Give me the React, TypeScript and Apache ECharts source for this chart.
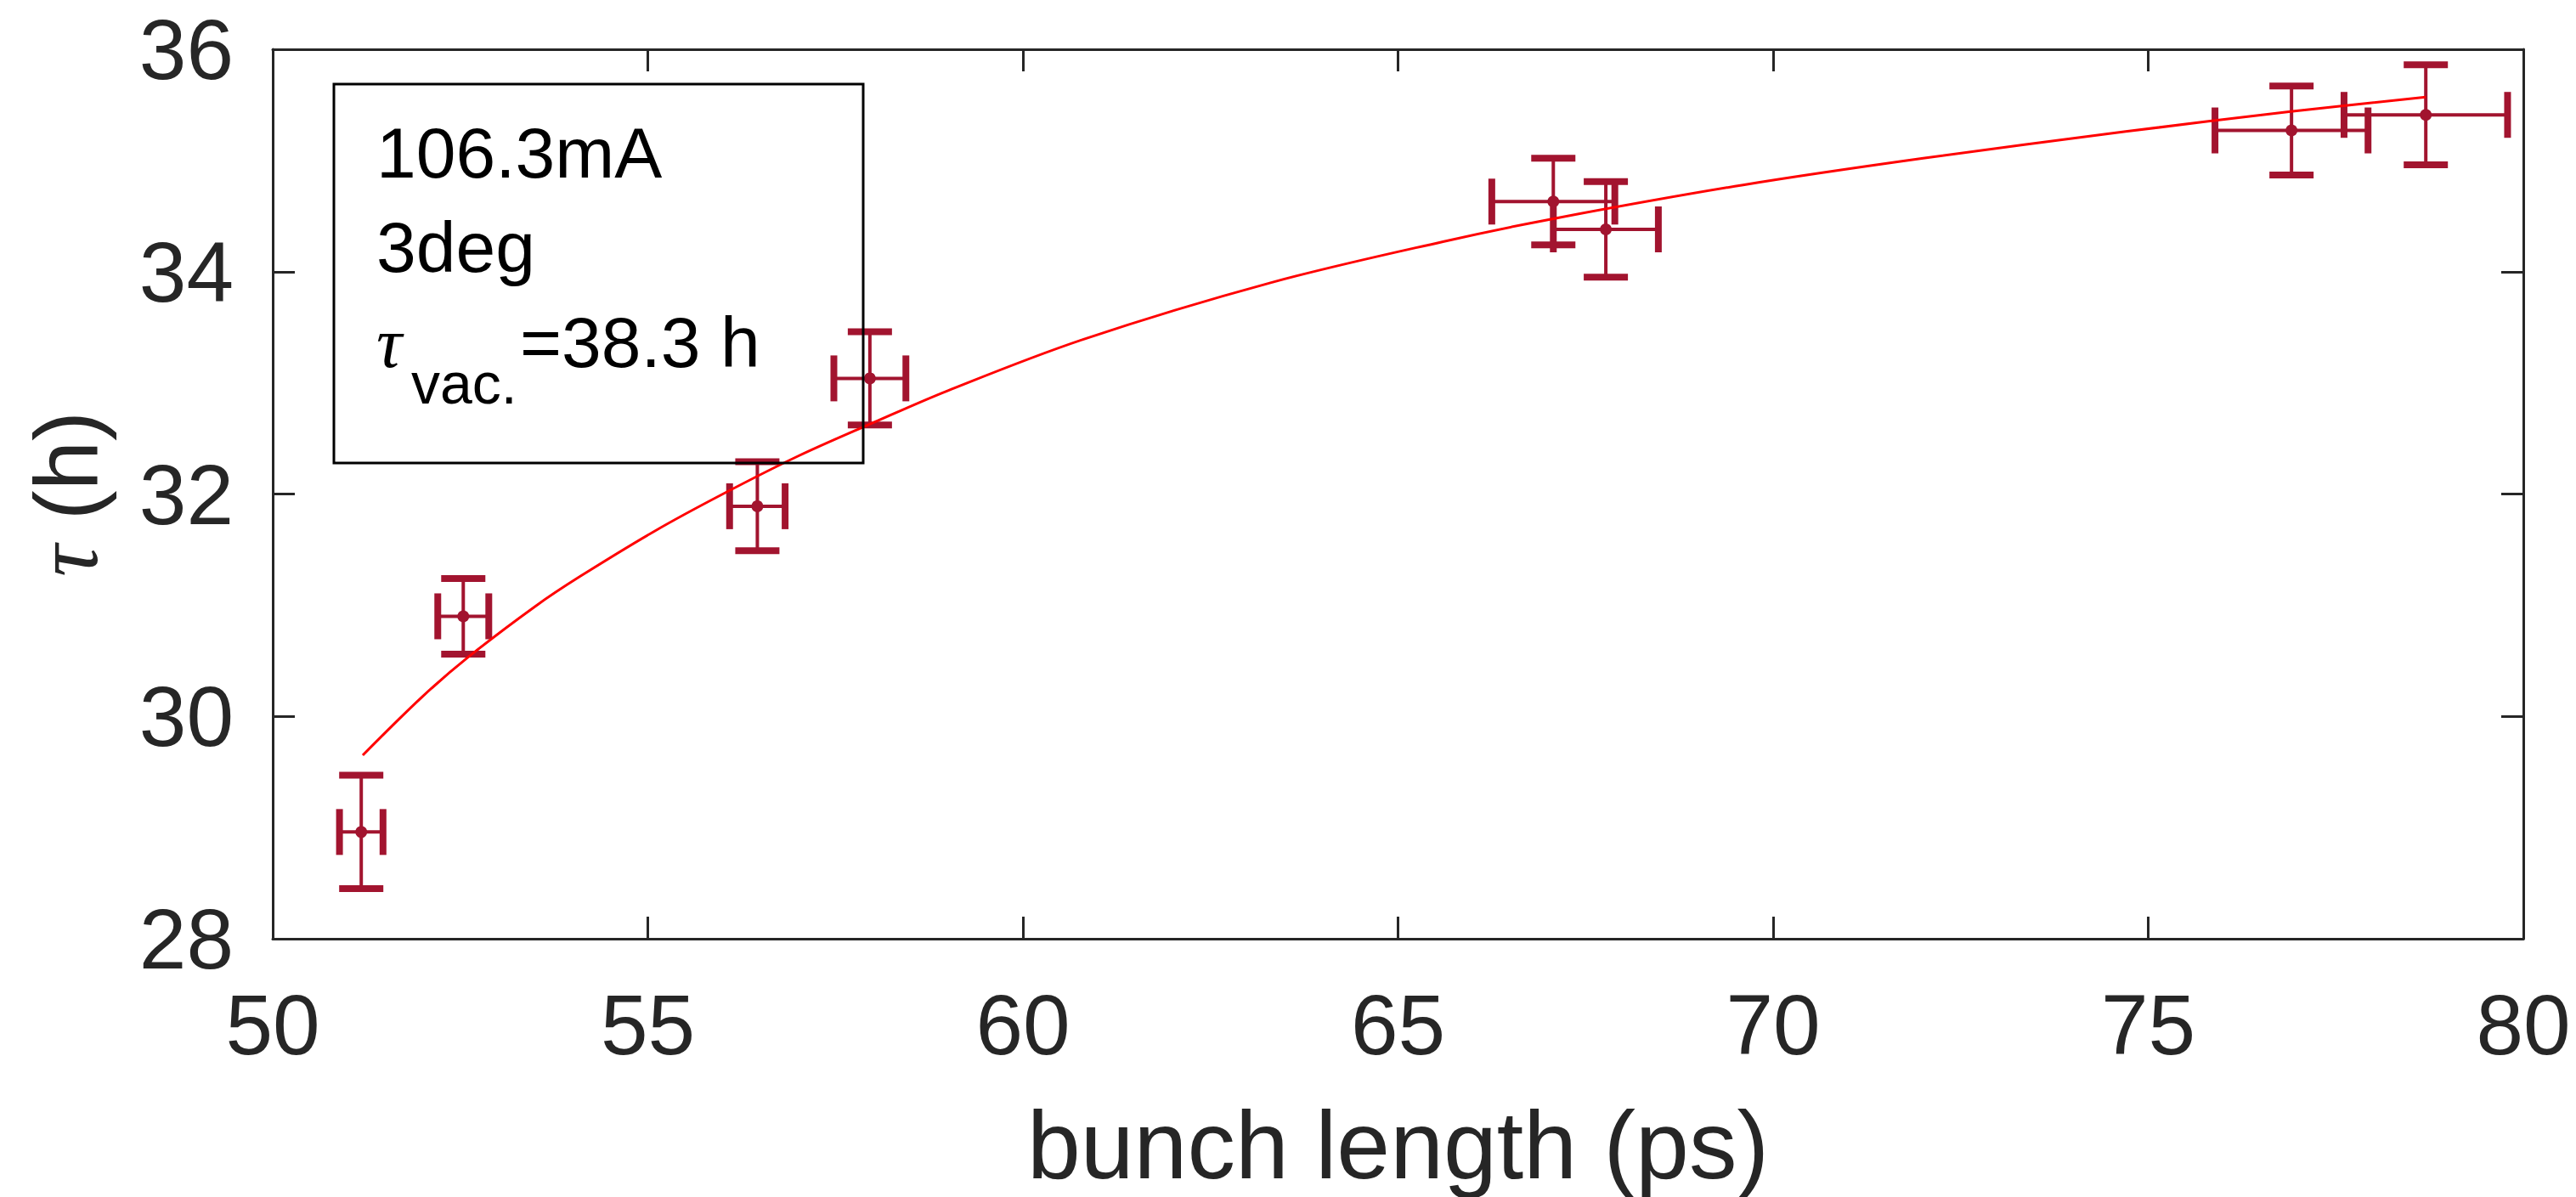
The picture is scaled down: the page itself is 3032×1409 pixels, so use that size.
import React, { useEffect, useRef } from "react";
import * as echarts from "echarts";

// measured points
const bunchLength = [51.18, 52.54, 56.46, 57.96, 67.07, 67.77, 76.91, 78.7];
const tau = [28.96, 30.9, 31.89, 33.04, 34.63, 34.38, 35.27, 35.41];
const lengthErr = [0.29, 0.34, 0.37, 0.48, 0.82, 0.7, 1.02, 1.09];
const tauErr = [0.51, 0.34, 0.4, 0.42, 0.39, 0.43, 0.4, 0.45];

// fitted curve
const fitLength = [51.2, 52.0, 52.6, 53.5, 54.1, 55.1, 56.0, 57.0, 58.0, 59.0, 60.8, 63.3, 65.6, 67.1, 69.6, 72.0, 74.7, 76.9, 78.7];
const fitTau = [29.65, 30.18, 30.53, 30.99, 31.26, 31.67, 32.0, 32.34, 32.64, 32.93, 33.39, 33.9, 34.27, 34.48, 34.78, 35.02, 35.26, 35.44, 35.57];

const xTicks = [50, 55, 60, 65, 70, 75, 80];
const yTicks = [28, 30, 32, 34, 36];

const legendLines = ["106.3mA", "3deg"];
const tauSymbol = "τ";
const tauSub = "vac.";
const tauValue = "=38.3 h";

const AXIS = "#262626";
const BAR = "#A2142F";
const SANS = '"Liberation Sans", Arial, Helvetica, sans-serif';
const SERIF = '"Liberation Serif", "DejaVu Serif", serif';

export default function App() {
  const ref = useRef<HTMLDivElement>(null);

  useEffect(() => {
    document.body.style.margin = "0";
    const chart = echarts.init(ref.current!, null, { renderer: "svg" });

    const barData = bunchLength.map((x, i) => [x, tau[i], lengthErr[i], tauErr[i]]);
    const fitData = fitLength.map((x, i) => [x, fitTau[i]]);

    const baseAxis = {
      type: "value" as const,
      axisLine: { show: true, onZero: false, lineStyle: { color: AXIS, width: 3 } },
      axisTick: { show: true, inside: true, length: 26, lineStyle: { color: AXIS, width: 3 } },
      splitLine: { show: false },
    };

    const textStyle = (font: string) => ({
      font,
      fill: "#000000",
      textAlign: "left",
      textVerticalAlign: "middle",
      align: "left",
      verticalAlign: "middle",
    });

    const option: any = {
      animation: false,
      backgroundColor: "#ffffff",
      grid: { left: 321, top: 58, width: 2649, height: 1050, containLabel: false },
      xAxis: [
        {
          ...baseAxis,
          position: "bottom",
          min: xTicks[0],
          max: xTicks[xTicks.length - 1],
          interval: 5,
          name: "bunch length (ps)",
          nameLocation: "middle",
          nameGap: 186,
          nameTextStyle: { fontSize: 113, fontFamily: SANS, color: AXIS },
          axisLabel: { fontSize: 100, fontFamily: SANS, color: AXIS, margin: 51 },
        },
        {
          ...baseAxis,
          position: "top",
          min: xTicks[0],
          max: xTicks[xTicks.length - 1],
          interval: 5,
          axisLabel: { show: false },
        },
      ],
      yAxis: [
        {
          ...baseAxis,
          position: "left",
          min: yTicks[0],
          max: yTicks[yTicks.length - 1],
          interval: 2,
          name: "{t|" + tauSymbol + "} (h)",
          nameLocation: "middle",
          nameGap: 190,
          nameRotate: 90,
          nameTextStyle: {
            fontSize: 105,
            fontFamily: SANS,
            color: AXIS,
            rich: {
              t: { fontSize: 105, fontFamily: SERIF, fontStyle: "italic", color: AXIS },
            },
          },
          axisLabel: { fontSize: 100, fontFamily: SANS, color: AXIS, margin: 46 },
        },
        {
          ...baseAxis,
          position: "right",
          min: yTicks[0],
          max: yTicks[yTicks.length - 1],
          interval: 2,
          axisLabel: { show: false },
        },
      ],
      series: [
        {
          type: "custom",
          xAxisIndex: 0,
          yAxisIndex: 0,
          data: barData,
          encode: { x: 0, y: 1 },
          z: 3,
          renderItem: (_params: any, api: any) => {
            const x = api.value(0);
            const y = api.value(1);
            const ex = api.value(2);
            const ey = api.value(3);
            const c = api.coord([x, y]);
            const top = api.coord([x, y + ey]);
            const bot = api.coord([x, y - ey]);
            const left = api.coord([x - ex, y]);
            const right = api.coord([x + ex, y]);
            const capW = 26;
            const capH = 27;
            const stem = { stroke: BAR, lineWidth: 4 };
            const cap = { stroke: BAR, lineWidth: 8 };
            return {
              type: "group",
              children: [
                { type: "line", shape: { x1: c[0], y1: top[1], x2: c[0], y2: bot[1] }, style: stem },
                { type: "line", shape: { x1: left[0], y1: c[1], x2: right[0], y2: c[1] }, style: stem },
                { type: "line", shape: { x1: c[0] - capW, y1: top[1], x2: c[0] + capW, y2: top[1] }, style: cap },
                { type: "line", shape: { x1: c[0] - capW, y1: bot[1], x2: c[0] + capW, y2: bot[1] }, style: cap },
                { type: "line", shape: { x1: left[0], y1: c[1] - capH, x2: left[0], y2: c[1] + capH }, style: cap },
                { type: "line", shape: { x1: right[0], y1: c[1] - capH, x2: right[0], y2: c[1] + capH }, style: cap },
                { type: "circle", shape: { cx: c[0], cy: c[1], r: 7 }, style: { fill: BAR } },
              ],
            };
          },
        },
        {
          type: "line",
          xAxisIndex: 0,
          yAxisIndex: 0,
          data: fitData,
          showSymbol: false,
          symbol: "none",
          smooth: 0.35,
          z: 4,
          lineStyle: { color: "#ff0000", width: 3 },
        },
      ],
      graphic: [
        {
          type: "rect",
          shape: { x: 393, y: 99, width: 623, height: 446 },
          style: { fill: "none", stroke: "#000000", lineWidth: 3 },
          z: 10,
        },
        { type: "text", x: 443, y: 180, style: { text: legendLines[0], ...textStyle("84px " + SANS) }, z: 10 },
        { type: "text", x: 443, y: 291, style: { text: legendLines[1], ...textStyle("84px " + SANS) }, z: 10 },
        { type: "text", x: 443, y: 403, style: { text: tauSymbol, ...textStyle("italic 84px " + SERIF) }, z: 10 },
        { type: "text", x: 484, y: 451, style: { text: tauSub, ...textStyle("68px " + SANS) }, z: 10 },
        { type: "text", x: 612, y: 403, style: { text: tauValue, ...textStyle("84px " + SANS) }, z: 10 },
      ],
    };

    chart.setOption(option);
    return () => chart.dispose();
  }, []);

  return <div ref={ref} style={{ width: 3032, height: 1409 }} />;
}
